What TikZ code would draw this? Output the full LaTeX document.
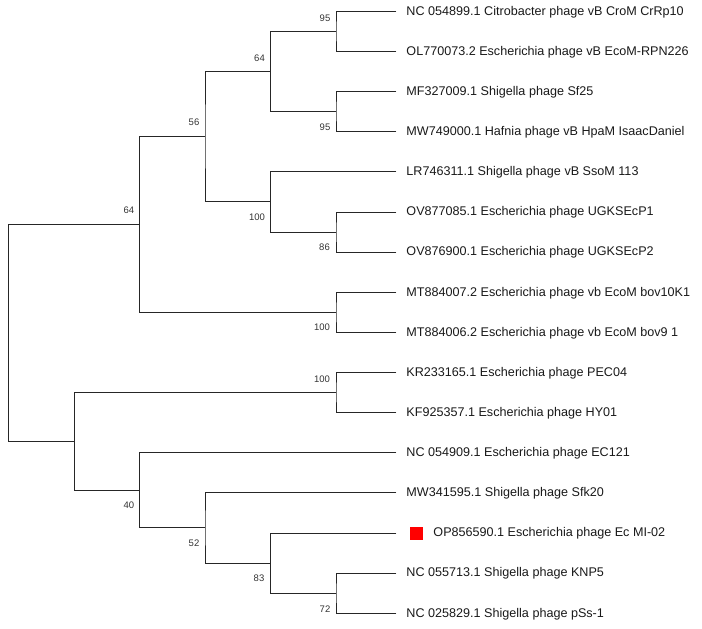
\documentclass[tikz,border=0pt]{standalone}
\usepackage{fontspec}
\setmainfont{Liberation Sans}
\begin{document}
\begin{tikzpicture}[x=1pt,y=-1pt,line width=0.9pt,
  br/.style={draw=black!85,line cap=rect},
  leaf/.style={anchor=west,inner sep=0pt,font=\fontsize{12.6}{14}\selectfont,text=black!90},
  bs/.style={inner sep=0pt,font=\fontsize{9.5}{11}\selectfont,text=black!80}]
\useasboundingbox (0,0) rectangle (702,629);
% leaf tips
\foreach \n/\y in {l1/11.3,l2/51.3,l3/91.3,l4/131.7,l5/171.7,l6/212,l7/252,l8/292.3,l9/332.3,l10/372.3,l11/412.3,l12/452.7,l13/492.7,l14/533,l15/573,l16/613.3}
  \coordinate (\n) at (396,\y);
% internal nodes
\coordinate (a95) at (336,31.3);
\coordinate (b95) at (336,111.5);
\coordinate (c64) at (270.7,71.4);
\coordinate (d86) at (336,232);
\coordinate (e100) at (270.7,201.8);
\coordinate (f56) at (205,136.6);
\coordinate (g100) at (336,312.3);
\coordinate (h64) at (139.7,224.4);
\coordinate (i100) at (336,392.3);
\coordinate (j72) at (336,593.2);
\coordinate (k83) at (270.7,563.1);
\coordinate (m52) at (205,527.9);
\coordinate (n40) at (139.7,490.3);
\coordinate (o) at (74.3,441.3);
\coordinate (root) at (8.7,441.3);
\newcommand{\clade}[3]{\draw[br] (#2) -| (#1) |- (#3);}
\clade{a95}{l1}{l2}
\clade{b95}{l3}{l4}
\clade{c64}{a95}{b95}
\clade{d86}{l6}{l7}
\clade{e100}{l5}{d86}
\clade{f56}{c64}{e100}
\clade{g100}{l8}{l9}
\clade{h64}{f56}{g100}
\clade{i100}{l10}{l11}
\clade{j72}{l15}{l16}
\clade{k83}{l14}{j72}
\clade{m52}{l13}{k83}
\clade{n40}{l12}{m52}
\clade{o}{i100}{n40}
\draw[br] (h64) -| (root) -- (o);
% leaf labels
\node[leaf] (t1) at (406,12) {NC 054899.1 Citrobacter phage vB CroM CrRp10};
\node[leaf] (t2) at (406,52) {OL770073.2 Escherichia phage vB EcoM-RPN226};
\node[leaf] (t3) at (406,92) {MF327009.1 Shigella phage Sf25};
\node[leaf] (t4) at (406,132.4) {MW749000.1 Hafnia phage vB HpaM IsaacDaniel};
\node[leaf] (t5) at (406,172.4) {LR746311.1 Shigella phage vB SsoM 113};
\node[leaf] (t6) at (406,212.7) {OV877085.1 Escherichia phage UGKSEcP1};
\node[leaf] (t7) at (406,252.7) {OV876900.1 Escherichia phage UGKSEcP2};
\node[leaf] (t8) at (406,293) {MT884007.2 Escherichia phage vb EcoM bov10K1};
\node[leaf] (t9) at (406,333) {MT884006.2 Escherichia phage vb EcoM bov9 1};
\node[leaf] (t10) at (406,373) {KR233165.1 Escherichia phage PEC04};
\node[leaf] (t11) at (406,413) {KF925357.1 Escherichia phage HY01};
\node[leaf] (t12) at (406,453.4) {NC 054909.1 Escherichia phage EC121};
\node[leaf] (t13) at (406,493.4) {MW341595.1 Shigella phage Sfk20};
\node[fill=red,minimum size=13pt,inner sep=0pt] (sq) at (416,533) {};
\node[leaf] (t14) at (433,533.7) {OP856590.1 Escherichia phage Ec MI-02};
\node[leaf] (t15) at (406,573.7) {NC 055713.1 Shigella phage KNP5};
\node[leaf] (t16) at (406,614) {NC 025829.1 Shigella phage pSs-1};
% bootstrap values
\node[bs] (v1) at (325,18) {95};
\node[bs] (v2) at (259.5,58) {64};
\node[bs] (v3) at (194,122.5) {56};
\node[bs] (v4) at (325,127) {95};
\node[bs] (v5) at (257,217) {100};
\node[bs] (v6) at (324.5,247.5) {86};
\node[bs] (v7) at (129,210.5) {64};
\node[bs] (v8) at (322,327.5) {100};
\node[bs] (v9) at (322,379) {100};
\node[bs] (v10) at (129,505.5) {40};
\node[bs] (v11) at (194,543.5) {52};
\node[bs] (v12) at (259,578) {83};
\node[bs] (v13) at (325,609) {72};
\end{tikzpicture}
\end{document}
